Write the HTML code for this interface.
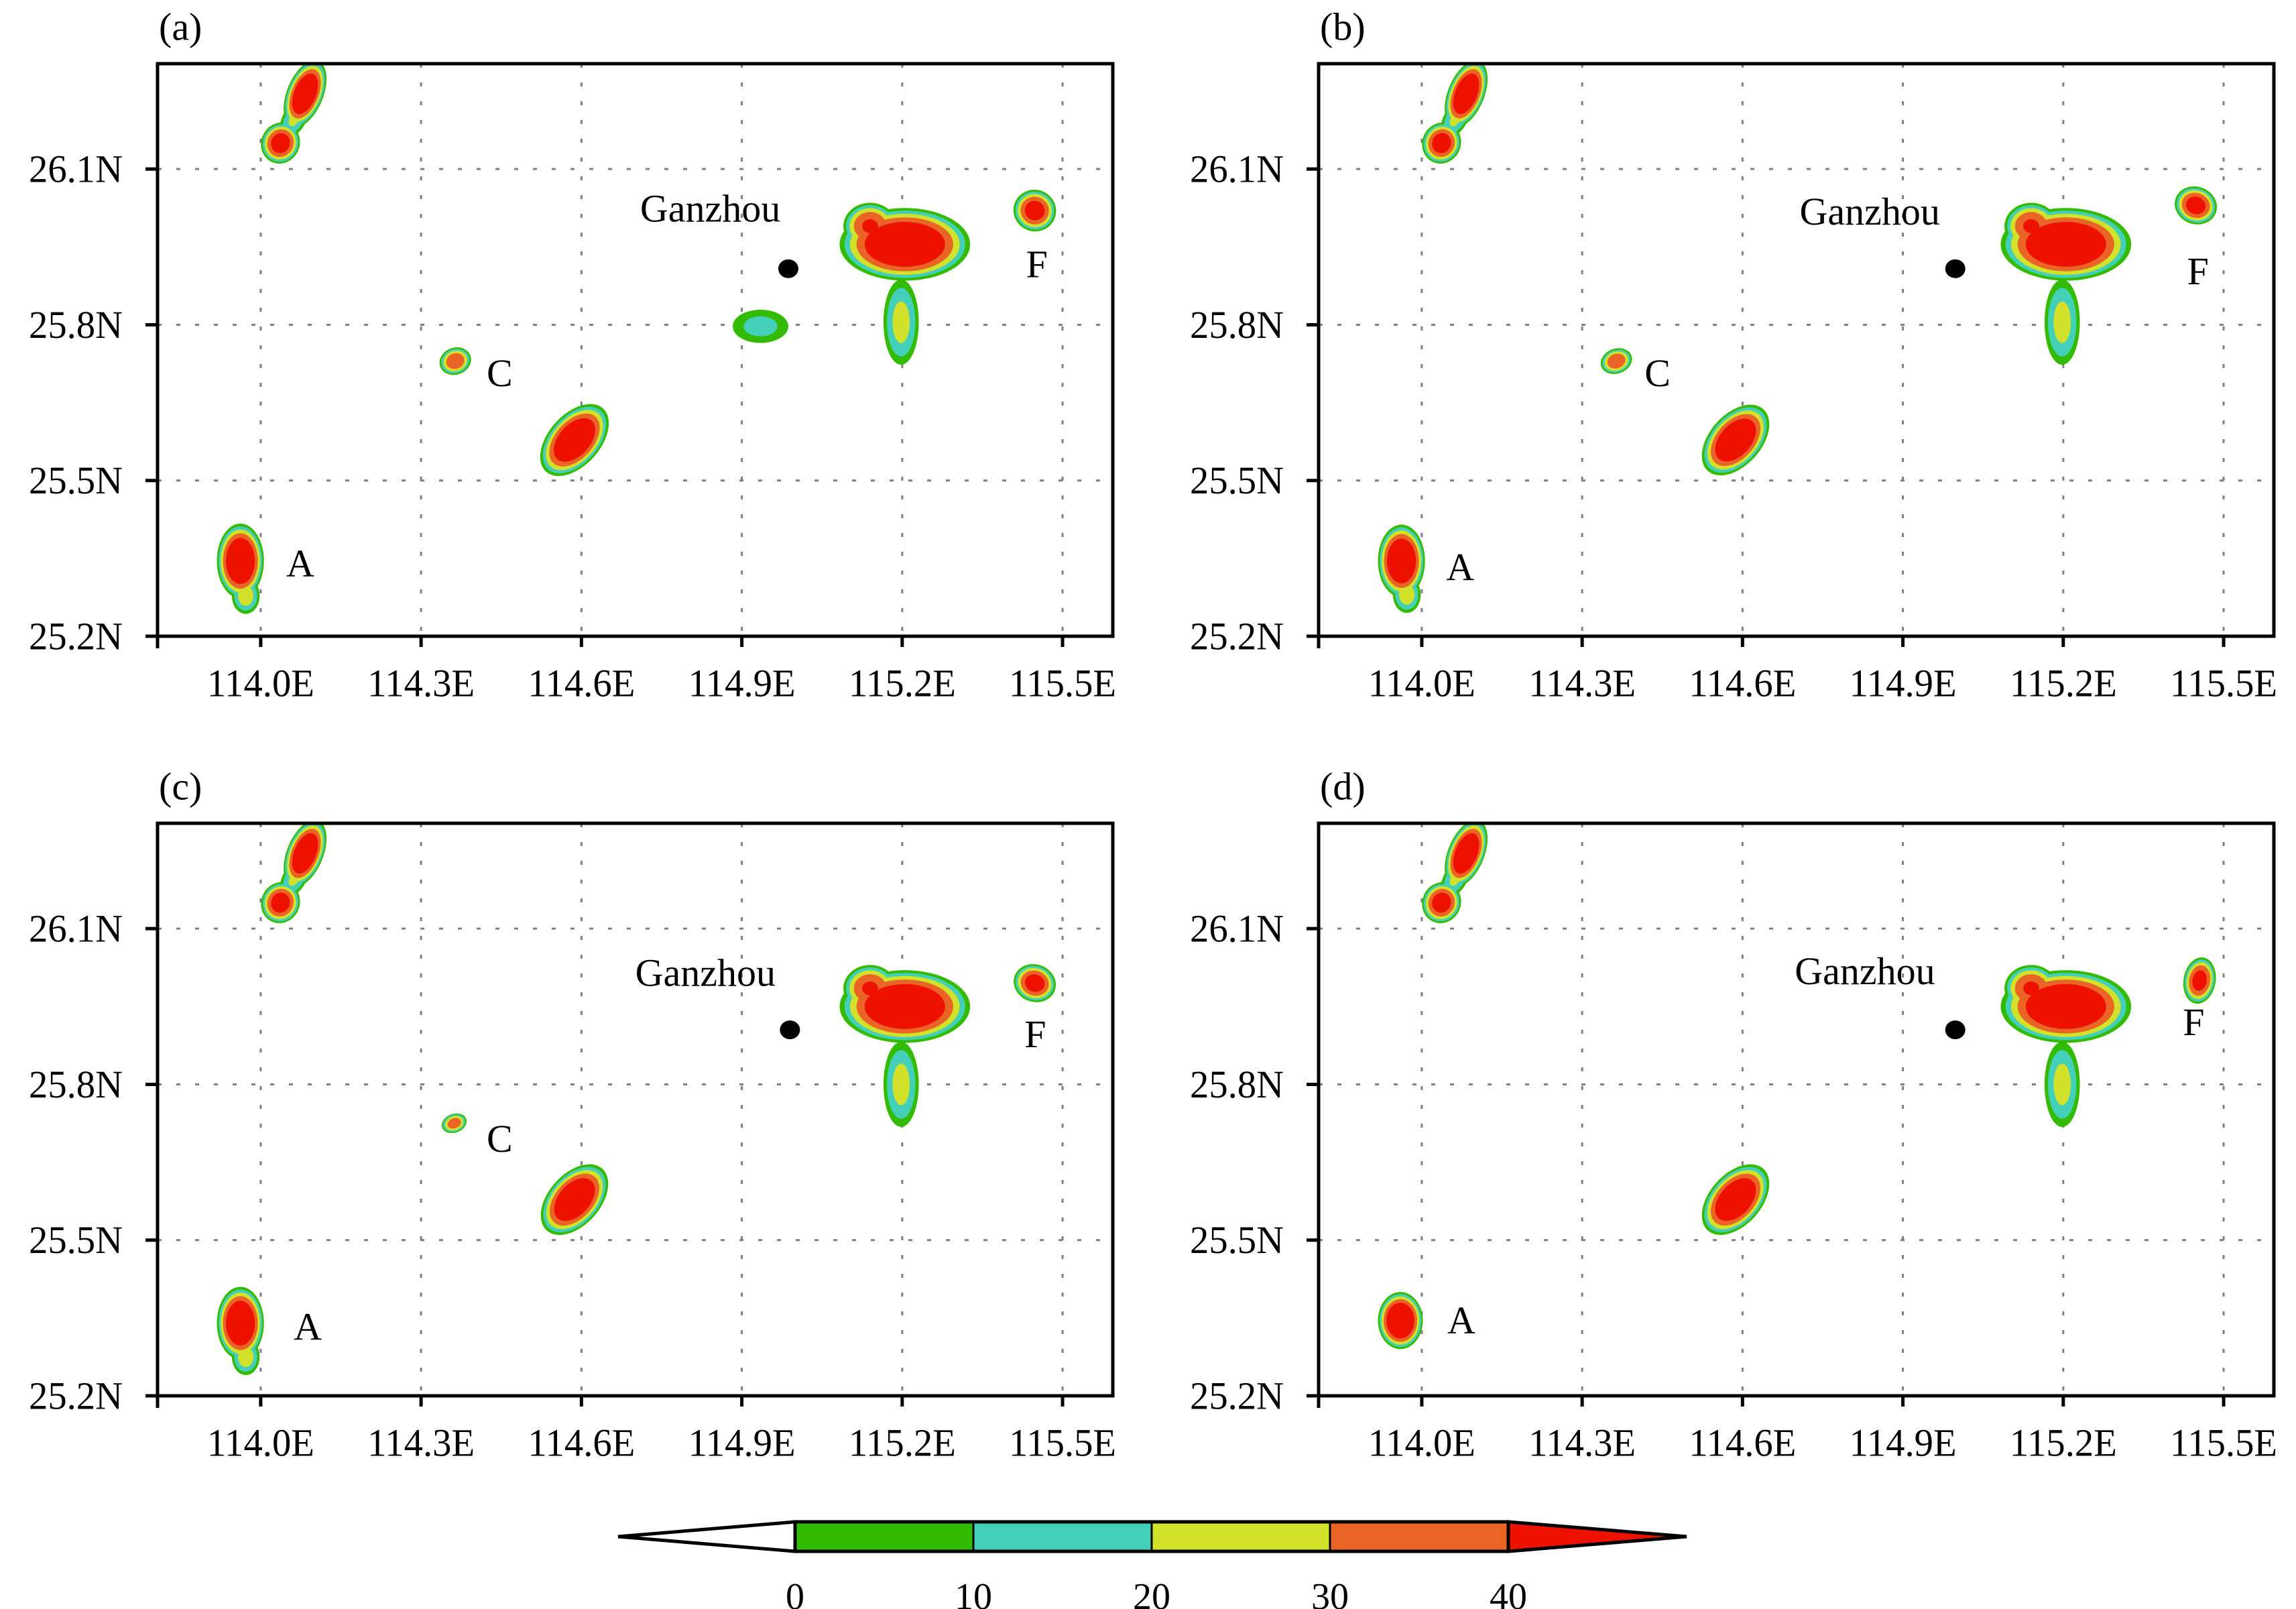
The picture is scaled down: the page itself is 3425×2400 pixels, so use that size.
<!DOCTYPE html>
<html><head><meta charset="utf-8">
<style>
html,body{margin:0;padding:0;background:#fff;}
svg{display:block;}
text{font-family:"Liberation Serif",serif;fill:#000;}
</style></head>
<body>
<svg id="fig" width="3425" height="2400" viewBox="0 0 3425 2400" xmlns="http://www.w3.org/2000/svg"></svg>
<script>
// ---- data ----
const lonTicks = [114.0, 114.3, 114.6, 114.9, 115.2, 115.5];
const lonTickLabels = ["114.0E","114.3E","114.6E","114.9E","115.2E","115.5E"];
const latTicks = [25.2, 25.5, 25.8, 26.1];
const latTickLabels = ["25.2N","25.5N","25.8N","26.1N"];
const levels = [0, 10, 20, 30, 40];
const levelColors = ["#33bb00","#44d0b8","#d2e22a","#ea6425","#ee1100"];
const colorbarLabels = ["0","10","20","30","40"];
const panelLetters = ["(a)","(b)","(c)","(d)"];
// storms: [lon, lat, rxDeg, ryDeg, rotationDeg, peak dBZ]
const stormsA = [
 [114.083,26.245,0.034,0.068,22,56],[114.062,26.195,0.022,0.035,30,22],[114.037,26.150,0.036,0.040,25,48],
 [114.364,25.730,0.030,0.026,-20,40],[114.587,25.578,0.048,0.082,42,56],
 [113.962,25.345,0.044,0.072,0,57],[113.972,25.278,0.026,0.035,0,26],
 [114.935,25.797,0.052,0.032,0,14],
 [115.205,25.955,0.122,0.070,0,57],[115.140,25.990,0.050,0.045,0,42],[115.198,25.805,0.033,0.082,0,24],
 [115.448,26.020,0.040,0.040,20,47]];
const stormsB = [
 [114.083,26.245,0.034,0.068,22,56],[114.062,26.195,0.022,0.035,30,22],[114.037,26.150,0.036,0.040,25,48],
 [114.364,25.730,0.030,0.024,-20,40],[114.587,25.578,0.048,0.080,42,56],
 [113.962,25.345,0.044,0.070,0,57],[113.972,25.280,0.026,0.035,0,26],
 [115.205,25.955,0.122,0.070,0,57],[115.140,25.990,0.050,0.045,0,42],[115.198,25.805,0.033,0.082,0,24],
 [115.448,26.030,0.040,0.036,20,47]];
const stormsC = [
 [114.083,26.245,0.034,0.068,22,56],[114.062,26.195,0.022,0.035,30,22],[114.037,26.150,0.036,0.040,25,48],
 [114.362,25.725,0.024,0.018,-20,38],[114.587,25.578,0.048,0.080,42,56],
 [113.962,25.340,0.044,0.070,0,57],[113.972,25.275,0.026,0.035,0,26],
 [115.205,25.950,0.122,0.070,0,57],[115.140,25.985,0.050,0.045,0,42],[115.198,25.800,0.033,0.082,0,24],
 [115.448,25.995,0.040,0.036,20,47]];
const stormsD = [
 [114.083,26.245,0.034,0.068,22,56],[114.062,26.195,0.022,0.035,30,22],[114.037,26.150,0.036,0.040,25,48],
 [114.587,25.578,0.048,0.080,42,56],
 [113.960,25.345,0.042,0.055,0,58],
 [115.205,25.950,0.122,0.070,0,57],[115.140,25.985,0.050,0.045,0,42],[115.198,25.800,0.033,0.082,0,24],
 [115.455,26.000,0.030,0.045,10,46]];
const stormSets = [stormsA, stormsB, stormsC, stormsD];
// labels [text, lon, lat]
const cityLon = [114.987, 114.998, 114.990, 114.998];
const cityLat = [25.908, 25.908, 25.905, 25.905];
const textLabelsA = [["Ganzhou",114.841,26.024],["A",114.074,25.34],["C",114.447,25.707],["F",115.452,25.917]];
const textLabelsB = [["Ganzhou",114.838,26.018],["A",114.072,25.333],["C",114.441,25.707],["F",115.452,25.903]];
const textLabelsC = [["Ganzhou",114.832,26.015],["A",114.088,25.333],["C",114.447,25.695],["F",115.449,25.897]];
const textLabelsD = [["Ganzhou",114.829,26.018],["A",114.074,25.345],["F",115.444,25.92]];
const textSets = [textLabelsA, textLabelsB, textLabelsC, textLabelsD];

// ---- layout ----
const NS = "http://www.w3.org/2000/svg";
const svg = document.getElementById("fig");
const LON0 = 113.807, LON1 = 115.594, LAT0 = 25.2, LAT1 = 26.303;
const panels = [[235,95,1660,949],[1967,95,3392,949],[235,1228,1660,2082],[1967,1228,3392,2082]];
function mk(tag, attrs, parent){ const e=document.createElementNS(NS,tag); for(const k in attrs) e.setAttribute(k,attrs[k]); (parent||svg).appendChild(e); return e; }

panels.forEach((p,pi)=>{
  const [x0,y0,x1,y1]=p;
  const xs = lon => x0 + (lon-LON0)/(LON1-LON0)*(x1-x0);
  const ys = lat => y1 - (lat-LAT0)/(LAT1-LAT0)*(y1-y0);
  const g = mk("g",{});
  
  
  const clipId="clip"+pi;
  const cp = mk("clipPath",{id:clipId},g); mk("rect",{x:x0,y:y0,width:x1-x0,height:y1-y0},cp);
  lonTicks.forEach(v=>{ const l=mk("line",{x1:xs(v),x2:xs(v),y1:y0,y2:y1,stroke:"#7a7f88","stroke-width":3,"stroke-dasharray":"6 22"},g);
      });
  latTicks.forEach(v=>{ const l=mk("line",{x1:x0,x2:x1,y1:ys(v),y2:ys(v),stroke:"#7a7f88","stroke-width":3,"stroke-dasharray":"6 22"},g);
      });
  const sg = mk("g",{"clip-path":"url(#"+clipId+")"},g);
   
  levels.forEach((lv,li)=>{
    stormSets[pi].forEach(s=>{
      const [lon,lat,rx,ry,rot,peak]=s;
      if(peak<=lv) return;
      const f=Math.pow((peak-lv)/peak,0.4);
      const cx=xs(lon), cy=ys(lat);
      const e=mk("ellipse",{cx:cx,cy:cy,rx:rx*f*(x1-x0)/(LON1-LON0),ry:ry*f*(y1-y0)/(LAT1-LAT0),fill:levelColors[li],transform:`rotate(${rot} ${cx} ${cy})`},sg);
      
      
    });
  });
  const dot=mk("ellipse",{cx:xs(cityLon[pi]),cy:ys(cityLat[pi]),rx:15,ry:14,fill:"#000"},g);
   
  textSets[pi].forEach(t=>{
    const tx=mk("text",{x:xs(t[1]),y:ys(t[2]),"font-size":58,"text-anchor":"middle","dominant-baseline":"central"},g);
    tx.textContent=t[0];
    
    
  });
  const fr=mk("rect",{x:x0,y:y0,width:x1-x0,height:y1-y0,fill:"none",stroke:"#000","stroke-width":5},g);
   
  mk("line",{x1:x0-18,x2:x0,y1:y1,y2:y1,stroke:"#000","stroke-width":5},g);
  mk("line",{x1:x0,x2:x0,y1:y1,y2:y1+18,stroke:"#000","stroke-width":5},g);
  lonTicks.forEach((v,i)=>{
    mk("line",{x1:xs(v),x2:xs(v),y1:y1,y2:y1+16,stroke:"#000","stroke-width":5},g);
    const t=mk("text",{x:xs(v),y:y1+70,"font-size":58,"text-anchor":"middle","dominant-baseline":"central",textLength:160,lengthAdjust:"spacingAndGlyphs"},g);
    t.textContent=lonTickLabels[i];
     
  });
  latTicks.forEach((v,i)=>{
    mk("line",{x1:x0-18,x2:x0,y1:ys(v),y2:ys(v),stroke:"#000","stroke-width":5},g);
    const t=mk("text",{x:x0-52,y:ys(v),"font-size":58,"text-anchor":"end","dominant-baseline":"central",textLength:140,lengthAdjust:"spacingAndGlyphs"},g);
    t.textContent=latTickLabels[i];
     
  });
  const pl=mk("text",{x:x0+2,y:y0-55,"font-size":58,"dominant-baseline":"central"},g);
  pl.textContent=panelLetters[pi];
   
});

// ---- colorbar ----
const cbX0=1186, cbX1=2250, cbY0=2270, cbY1=2314, tipL=922, tipR=2516;
const cb = mk("g",{});
 
const segW=(cbX1-cbX0)/(levels.length-1);
const cbx = i => cbX0 + i*segW;
const lt=mk("polygon",{points:`${cbX0},${cbY0} ${tipL},${(cbY0+cbY1)/2} ${cbX0},${cbY1}`,fill:"#fff",stroke:"#000","stroke-width":5},cb);
 
for(let i=0;i<levels.length-1;i++){
  const r=mk("rect",{x:cbx(i),y:cbY0,width:segW,height:cbY1-cbY0,fill:levelColors[i],stroke:"#000","stroke-width":3},cb);
   
}
const rt=mk("polygon",{points:`${cbX1},${cbY0} ${tipR},${(cbY0+cbY1)/2} ${cbX1},${cbY1}`,fill:levelColors[4],stroke:"#000","stroke-width":5},cb);
 
mk("rect",{x:cbX0,y:cbY0,width:cbX1-cbX0,height:cbY1-cbY0,fill:"none",stroke:"#000","stroke-width":5},cb);
colorbarLabels.forEach((l,i)=>{
  const t=mk("text",{x:cbx(i),y:2382,"font-size":56,"text-anchor":"middle","dominant-baseline":"central"},cb);
  t.textContent=l;
   
});
</script>
</body></html>
